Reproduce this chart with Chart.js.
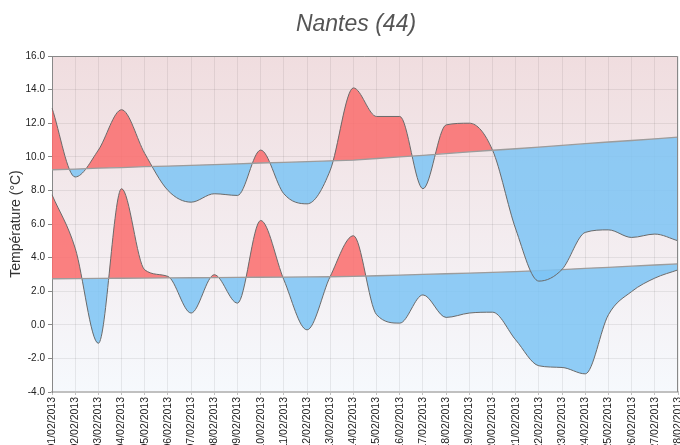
<!DOCTYPE html>
<html>
<head>
<meta charset="utf-8">
<script src="https://cdn.jsdelivr.net/npm/chart.js@4"></script>
<style>
  html, body { margin: 0; padding: 0; background: #ffffff; }
  #wrap { width: 680px; height: 445px; }
</style>
</head>
<body>
<div id="wrap"><canvas id="c" width="680" height="445"></canvas></div>
<script>
const chartTitle = 'Nantes (44)';
const axisTitle = 'Température (°C)';

const dates = ['01/02/2013','02/02/2013','03/02/2013','04/02/2013','05/02/2013','06/02/2013','07/02/2013',
  '08/02/2013','09/02/2013','10/02/2013','11/02/2013','12/02/2013','13/02/2013','14/02/2013',
  '15/02/2013','16/02/2013','17/02/2013','18/02/2013','19/02/2013','20/02/2013','21/02/2013',
  '22/02/2013','23/02/2013','24/02/2013','25/02/2013','26/02/2013','27/02/2013','28/02/2013'];

const tempMax = [12.9, 8.8, 10.4, 12.8, 10.2, 8.0, 7.3, 7.8, 7.7, 10.4, 7.8, 7.2, 9.2, 14.1,
  12.4, 12.4, 8.1, 11.9, 12.0, 10.4, 5.7, 2.6, 3.3, 5.5, 5.65, 5.2, 5.4, 5.0];

const normalMax = [9.23, 9.27, 9.32, 9.36, 9.41, 9.45, 9.49, 9.54, 9.58, 9.63, 9.67, 9.71, 9.76, 9.80,
  9.90, 9.99, 10.09, 10.19, 10.29, 10.39, 10.48, 10.58, 10.68, 10.78, 10.88, 10.97, 11.07, 11.17];

const tempMin = [7.74, 4.56, -1.1, 8.1, 3.27, 2.88, 0.7, 2.98, 1.29, 6.21, 2.68, -0.3, 2.88, 5.3,
  0.6, 0.1, 1.78, 0.44, 0.7, 0.75, -0.9, -2.44, -2.54, -2.92, 0.6, 1.98, 2.78, 3.27];

const normalMin = [2.74, 2.75, 2.76, 2.77, 2.78, 2.79, 2.80, 2.81, 2.82, 2.83, 2.84, 2.85, 2.86, 2.88,
  2.92, 2.96, 3.00, 3.04, 3.08, 3.12, 3.17, 3.23, 3.29, 3.36, 3.42, 3.49, 3.56, 3.63];

const yMin = -4, yMax = 16, yStep = 2;

const RED = 'rgba(250,108,108,0.85)';
const BLUE = 'rgba(124,196,245,0.85)';

const deco = {
  id: 'deco',
  beforeDraw(chart) {
    const { ctx, chartArea: a } = chart;
    const g = ctx.createLinearGradient(0, a.top, 0, a.bottom);
    g.addColorStop(0, 'rgb(240,221,223)');
    g.addColorStop(1, 'rgb(246,249,253)');
    ctx.save();
    ctx.fillStyle = g;
    ctx.fillRect(a.left, a.top, a.right - a.left, a.bottom - a.top);
    ctx.restore();
  },
  afterDraw(chart) {
    const { ctx, chartArea: a } = chart;
    ctx.save();
    ctx.strokeStyle = '#888888';
    ctx.lineWidth = 1;
    ctx.beginPath();
    ctx.moveTo(a.left, a.top + 0.5);
    ctx.lineTo(a.right - 0.5, a.top + 0.5);
    ctx.lineTo(a.right - 0.5, a.bottom);
    ctx.stroke();
    ctx.font = 'italic 23px "Liberation Sans", Arial, sans-serif';
    ctx.fillStyle = '#555555';
    ctx.textAlign = 'center';
    ctx.textBaseline = 'middle';
    ctx.fillText(chartTitle, 356, 25);
    ctx.restore();
  }
};

const lineBase = { pointRadius: 0, pointHoverRadius: 0 };

new Chart(document.getElementById('c'), {
  type: 'line',
  data: {
    labels: dates,
    datasets: [
      { ...lineBase, label: 'Normale max', data: normalMax, borderColor: '#9c9c9c', borderWidth: 1.3, fill: false, tension: 0 },
      { ...lineBase, label: 'Max', data: tempMax, borderColor: '#6a6a6a', borderWidth: 1,
        cubicInterpolationMode: 'monotone', fill: { target: 0, above: RED, below: BLUE } },
      { ...lineBase, label: 'Normale min', data: normalMin, borderColor: '#9c9c9c', borderWidth: 1.3, fill: false, tension: 0 },
      { ...lineBase, label: 'Min', data: tempMin, borderColor: '#6a6a6a', borderWidth: 1,
        cubicInterpolationMode: 'monotone', fill: { target: 2, above: RED, below: BLUE } }
    ]
  },
  options: {
    responsive: false,
    animation: false,
    layout: { padding: { top: 56, right: 2, left: 0, bottom: 0 } },
    plugins: {
      legend: { display: false },
      title: { display: false },
      tooltip: { enabled: false }
    },
    scales: {
      x: {
        offset: false,
        afterFit(s) { s.height = 53; s.paddingRight = 0; s.paddingLeft = 0; },
        grid: { color: 'rgba(0,0,0,0.07)', tickLength: 3, tickColor: '#c0c0c0' },
        border: { color: '#c0c0c0', width: 2 },
        ticks: {
          autoSkip: false, minRotation: 90, maxRotation: 90, padding: 2,
          color: '#222222', font: { family: '"Liberation Sans", Arial, sans-serif', size: 10.5 }
        }
      },
      y: {
        min: yMin, max: yMax,
        afterFit(s) { s.width = 52; },
        grid: { color: 'rgba(0,0,0,0.07)', tickLength: 4, tickColor: '#888888' },
        border: { color: '#888888', width: 1 },
        title: {
          display: true, text: axisTitle, color: '#333333', padding: { top: 8, bottom: 0 },
          font: { family: '"Liberation Sans", Arial, sans-serif', size: 14 }
        },
        ticks: {
          stepSize: yStep, padding: 3, color: '#222222',
          font: { family: '"Liberation Sans", Arial, sans-serif', size: 10 },
          callback: v => Number(v).toFixed(1)
        }
      }
    }
  },
  plugins: [deco]
});
</script>
</body>
</html>
